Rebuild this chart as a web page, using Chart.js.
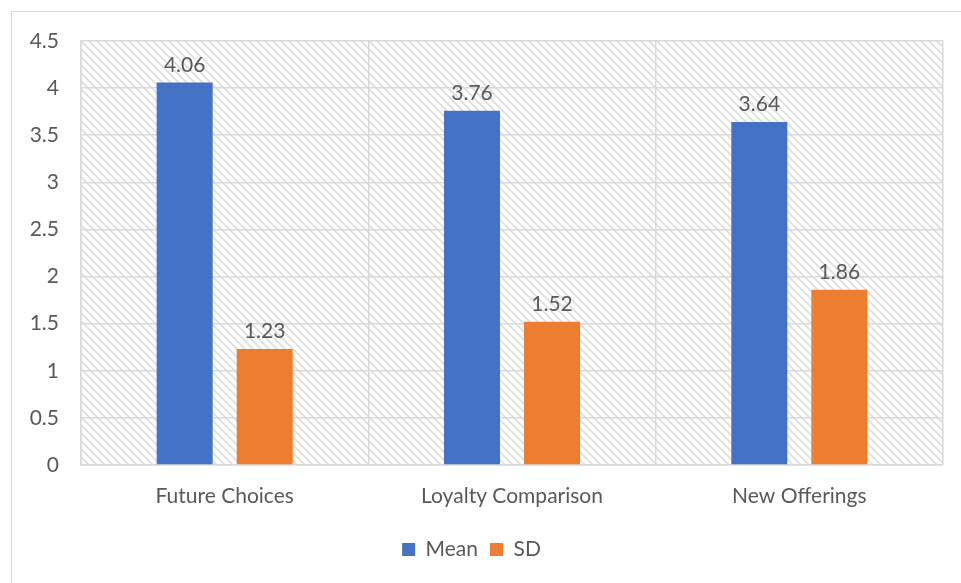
<!DOCTYPE html>
<html>
<head>
<meta charset="utf-8">
<script src="https://cdn.jsdelivr.net/npm/chart.js@4"></script>
<style>
  html, body { margin: 0; padding: 0; background: #fff; overflow: hidden; }
  #frame {
    position: absolute; left: 11px; top: 11px;
    width: 1000px; height: 620px;
    border: 1.5px solid #d9d9d9;
  }
  #wrap { position: absolute; left: 0; top: 0; width: 961px; height: 583px; }
</style>
</head>
<body>
<div id="frame"></div>
<div id="wrap"><canvas id="chart" width="961" height="583"></canvas></div>
<script>
const categories = ["Future Choices", "Loyalty Comparison", "New Offerings"];
const meanValues = [4.06, 3.76, 3.64];
const sdValues = [1.23, 1.52, 1.86];

const textColor = "#595959";
const gridColor = "#d9d9d9";
const fontFamily = "Lato, 'Liberation Sans', sans-serif";
const fontSize = 21;

// diagonal hatch for the plot background
function makeHatch() {
  const size = 8;
  const c = document.createElement("canvas");
  c.width = size; c.height = size;
  const g = c.getContext("2d");
  g.fillStyle = "#ffffff";
  g.fillRect(0, 0, size, size);
  g.strokeStyle = "#dedede";
  g.lineWidth = 1.8;
  g.beginPath();
  g.moveTo(-2, -2); g.lineTo(size + 2, size + 2);
  g.moveTo(-2, size - 2); g.lineTo(2, size + 2);
  g.moveTo(size - 2, -2); g.lineTo(size + 2, 2);
  g.stroke();
  return c;
}

const hatchPlugin = {
  id: "hatch",
  beforeDraw(chart) {
    const { ctx, chartArea: a } = chart;
    ctx.save();
    ctx.fillStyle = ctx.createPattern(makeHatch(), "repeat");
    ctx.fillRect(a.left, a.top, a.right - a.left, a.bottom - a.top);
    ctx.restore();
  }
};

// value labels above each bar
const valueLabels = {
  id: "valueLabels",
  afterDatasetsDraw(chart) {
    const ctx = chart.ctx;
    ctx.save();
    ctx.font = fontSize + "px " + fontFamily;
    ctx.fillStyle = textColor;
    ctx.textAlign = "center";
    ctx.textBaseline = "bottom";
    chart.data.datasets.forEach((ds, i) => {
      chart.getDatasetMeta(i).data.forEach((bar, j) => {
        ctx.fillText(ds.data[j].toFixed(2), bar.x, bar.y - 7);
      });
    });
    ctx.restore();
  }
};

const chart = document.querySelector("#chart").getContext("2d");

new Chart(chart, {
  type: "bar",
  data: {
    labels: categories,
    datasets: [
      {
        label: "Mean",
        data: meanValues,
        backgroundColor: "#4472c4",
        categoryPercentage: 0.557,
        barPercentage: 0.7
      },
      {
        label: "SD",
        data: sdValues,
        backgroundColor: "#ed7d31",
        categoryPercentage: 0.557,
        barPercentage: 0.7
      }
    ]
  },
  options: {
    responsive: false,
    animation: false,
    layout: { padding: { left: 0, top: 41, right: 18, bottom: 13 } },
    scales: {
      x: {
        grid: { color: gridColor, lineWidth: 1.5, drawTicks: false, offset: true },
        border: { color: gridColor, width: 1.5 },
        ticks: { color: textColor, font: { family: fontFamily, size: fontSize }, padding: 19 },
        afterFit(scale) { scale.height = 62; }
      },
      y: {
        min: 0,
        max: 4.5,
        grid: { color: gridColor, lineWidth: 1.5, drawTicks: false },
        border: { color: gridColor, width: 1.5 },
        ticks: {
          stepSize: 0.5,
          color: textColor,
          font: { family: fontFamily, size: fontSize },
          padding: 22,
          callback: (v) => String(v)
        },
        afterFit(scale) { scale.width = 81; }
      }
    },
    plugins: {
      legend: {
        position: "bottom",
        labels: {
          color: textColor,
          font: { family: fontFamily, size: fontSize },
          boxWidth: 13,
          boxHeight: 13,
          padding: 12
        }
      },
      tooltip: { enabled: false }
    }
  },
  plugins: [hatchPlugin, valueLabels]
});
</script>
</body>
</html>
